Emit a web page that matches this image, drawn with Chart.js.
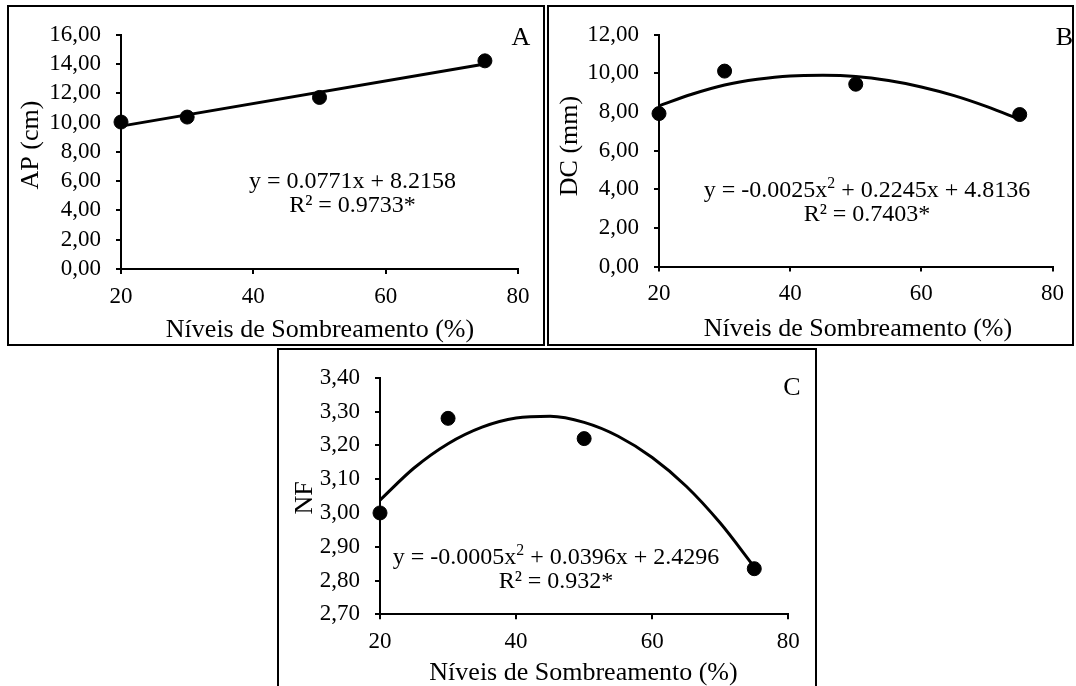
<!DOCTYPE html>
<html><head><meta charset="utf-8">
<script src="https://cdn.jsdelivr.net/npm/chart.js@4.4.1/dist/chart.umd.min.js"></script>
<style>
html,body{margin:0;padding:0;background:#fff;}
body{width:1076px;height:686px;position:relative;overflow:hidden;}
canvas{position:absolute;}
.frame{position:absolute;border:2px solid #000;box-sizing:border-box;pointer-events:none;}
</style></head><body>
<canvas id="cA" width="537" height="339" style="left:8px;top:6px;width:537px;height:339px"></canvas>
<canvas id="cB" width="525" height="339" style="left:548px;top:6px;width:525px;height:339px"></canvas>
<canvas id="cC" width="538" height="337" style="left:278px;top:349px;width:538px;height:337px"></canvas>
<div class="frame" style="left:7px;top:5px;width:538px;height:341px"></div>
<div class="frame" style="left:547px;top:5px;width:527px;height:341px"></div>
<div class="frame" style="left:277px;top:348px;width:540px;height:360px"></div>
<script>
// ---- data ----
const shading = [20, 30, 50, 75];
const apObs = [10.04, 10.38, 11.72, 14.22];
const dcObs = [7.92, 10.12, 9.44, 7.87];
const nfObs = [3.00, 3.28, 3.22, 2.835];

const apFitX = [20, 75];
const apFit = [9.76, 14.00];
const fitX = [20, 25, 30, 35, 40, 45, 50, 55, 60, 65, 70, 75];
const dcFit = [8.32, 8.92, 9.40, 9.70, 9.87, 9.90, 9.84, 9.63, 9.30, 8.85, 8.28, 7.62];
const nfFit = [3.038, 3.133, 3.205, 3.254, 3.281, 3.286, 3.268, 3.227, 3.164, 3.079, 2.970, 2.840];

const xTicks = [20, 40, 60, 80];
const apTicks = [0, 2, 4, 6, 8, 10, 12, 14, 16];
const dcTicks = [0, 2, 4, 6, 8, 10, 12];
const nfTicks = [2.7, 2.8, 2.9, 3.0, 3.1, 3.2, 3.3, 3.4];

const xTitle = 'Níveis de Sombreamento (%)';
const eqA = [[['y = 0.0771x + 8.2158', false]], [['R² = 0.9733*', false]]];
const eqB = [[['y = -0.0025x', false], ['2', true], [' + 0.2245x + 4.8136', false]], [['R² = 0.7403*', false]]];
const eqC = [[['y = -0.0005x', false], ['2', true], [' + 0.0396x + 2.4296', false]], [['R² = 0.932*', false]]];

const FONT = '"Liberation Serif", "Times New Roman", serif';

const annot = {
  id: 'annot',
  afterDraw(chart, args, o) {
    const ctx = chart.ctx;
    ctx.save();
    ctx.fillStyle = '#000';
    ctx.textBaseline = 'alphabetic';
    ctx.font = o.titleSize + 'px ' + FONT;
    ctx.textAlign = 'center';
    ctx.fillText(o.xTitle, o.xt[0], o.xt[1]);
    ctx.fillText(o.letter, o.lt[0], o.lt[1]);
    ctx.save();
    ctx.translate(o.yt[0], o.yt[1]);
    ctx.rotate(-Math.PI / 2);
    ctx.textAlign = 'center';
    ctx.fillText(o.yTitle, 0, 0);
    ctx.restore();
    ctx.textAlign = 'left';
    o.eq.forEach((line, li) => {
      const base = o.eqBase[li];
      let w = 0;
      const sizes = line.map(p => {
        ctx.font = (p[1] ? o.eqSize * 0.66 : o.eqSize) + 'px ' + FONT;
        const m = ctx.measureText(p[0]).width;
        w += m;
        return m;
      });
      let x = o.eqX - w / 2;
      line.forEach((p, i) => {
        ctx.font = (p[1] ? o.eqSize * 0.66 : o.eqSize) + 'px ' + FONT;
        ctx.fillText(p[0], x, p[1] ? base - o.eqSize * 0.36 : base);
        x += sizes[i];
      });
    });
    ctx.restore();
  }
};

function makeChart(id, c) {
  const pts = c.obsX.map((x, i) => ({ x: x, y: c.obsY[i] }));
  const fit = c.fitX.map((x, i) => ({ x: x, y: c.fitY[i] }));
  const grid = { display: true, drawOnChartArea: false, drawTicks: true, tickLength: 5, color: '#000', lineWidth: 2 };
  const border = { display: true, color: '#000', width: 2 };
  return new Chart(document.getElementById(id), {
    type: 'scatter',
    data: {
      datasets: [
        { data: pts, pointRadius: 7, pointHoverRadius: 7, pointBorderWidth: 1, backgroundColor: '#000', borderColor: '#000', showLine: false, clip: false },
        { data: fit, showLine: true, pointRadius: 0, pointHoverRadius: 0, borderColor: '#000', backgroundColor: '#000', borderWidth: 3, cubicInterpolationMode: 'monotone', fill: false, clip: false }
      ]
    },
    options: {
      responsive: false, animation: false, events: [],
      layout: { padding: { left: 0, top: c.padTop, right: c.padRight, bottom: 0 } },
      plugins: { legend: { display: false }, tooltip: { enabled: false }, annot: c.annot },
      scales: {
        x: {
          type: 'linear', min: 20, max: 80,
          afterBuildTicks: s => { s.ticks = xTicks.map(v => ({ value: v })); },
          afterFit: s => { s.height = c.xH; },
          ticks: { autoSkip: false, color: '#000', font: { family: FONT, size: 23 }, padding: 9, maxRotation: 0, callback: v => String(v) },
          grid: grid, border: border
        },
        y: {
          type: 'linear', min: c.yMin, max: c.yMax,
          afterBuildTicks: s => { s.ticks = c.yTicks.map(v => ({ value: v })); },
          afterFit: s => { s.width = c.yW; },
          ticks: { autoSkip: false, color: '#000', font: { family: FONT, size: 23 }, padding: 15, callback: v => Number(v).toFixed(2).replace('.', ',') },
          grid: grid, border: border
        }
      }
    },
    plugins: [annot]
  });
}

makeChart('cA', {
  obsX: shading, obsY: apObs, fitX: apFitX, fitY: apFit,
  yMin: 0, yMax: 16, yTicks: apTicks,
  padTop: 14, padRight: 27, xH: 76, yW: 113,
  annot: { xTitle: xTitle, yTitle: 'AP (cm)', letter: 'A', titleSize: 26, eqSize: 24,
    xt: [312, 331], yt: [29.5, 139], lt: [513, 39], eq: eqA, eqX: 344.5, eqBase: [181.5, 205.5] }
});
makeChart('cB', {
  obsX: shading, obsY: dcObs, fitX: fitX, fitY: dcFit,
  yMin: 0, yMax: 12, yTicks: dcTicks,
  padTop: 15.7, padRight: 15, xH: 78.5, yW: 111,
  annot: { xTitle: xTitle, yTitle: 'DC (mm)', letter: 'B', titleSize: 26, eqSize: 24,
    xt: [310, 330], yt: [29, 140], lt: [516.5, 39], eq: eqB, eqX: 319, eqBase: [190.5, 214.5] }
});
makeChart('cC', {
  obsX: shading, obsY: nfObs, fitX: fitX, fitY: nfFit,
  yMin: 2.7, yMax: 3.4, yTicks: nfTicks,
  padTop: 21.7, padRight: 27.7, xH: 71.7, yW: 102,
  annot: { xTitle: xTitle, yTitle: 'NF', letter: 'C', titleSize: 26, eqSize: 24,
    xt: [305.5, 331], yt: [33.7, 149], lt: [514, 46], eq: eqC, eqX: 278, eqBase: [214.5, 238.5] }
});
</script>
</body></html>
